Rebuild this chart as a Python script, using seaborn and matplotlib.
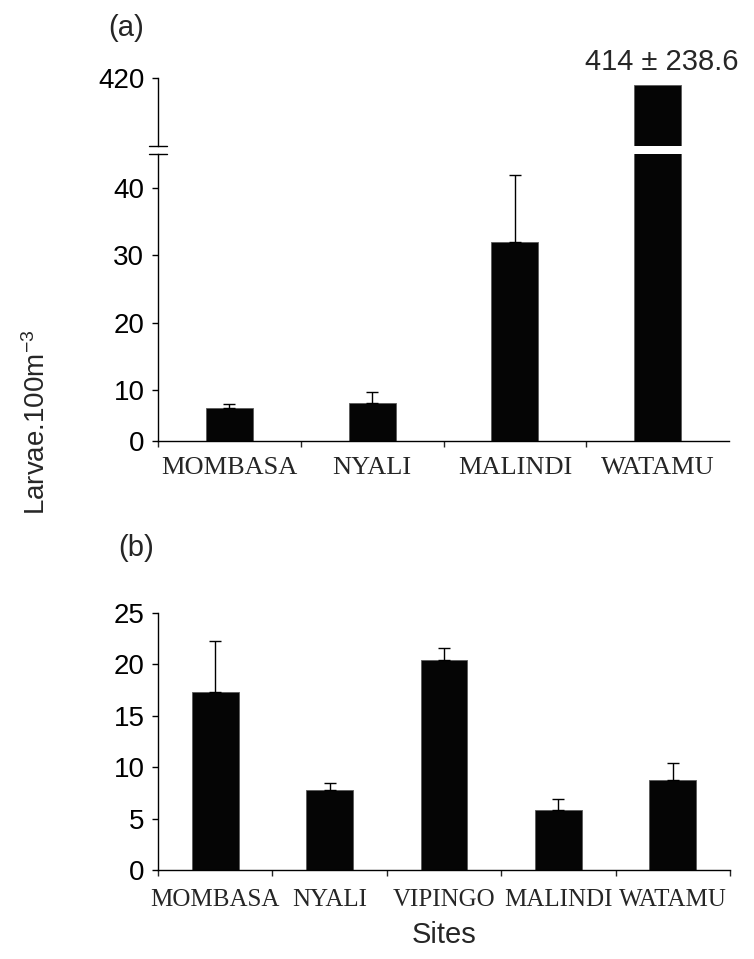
import numpy as np
import pandas as pd
import matplotlib
matplotlib.use("Agg")
import matplotlib.pyplot as plt
import seaborn as sns

# Panel (a): larval density per site (mean and upper SE)
sites_a = ["MOMBASA", "NYALI", "MALINDI", "WATAMU"]
mean_a = [6.5, 7.5, 32.0, 414.0]
se_a = [0.75, 2.1, 9.9, 238.6]

# Panel (b)
sites_b = ["MOMBASA", "NYALI", "VIPINGO", "MALINDI", "WATAMU"]
mean_b = [17.3, 7.8, 20.4, 5.8, 8.75]
se_b = [5.0, 0.7, 1.2, 1.1, 1.7]

ticks_a_low = [0, 10, 20, 30, 40]
ticks_a_high = [420]
ticks_b = [0, 5, 10, 15, 20, 25]

sns.set_theme(style="ticks")
plt.rcParams["font.family"] = ["Liberation Sans", "DejaVu Sans"]
plt.rcParams["mathtext.default"] = "regular"

W, H = 754, 959
fig = plt.figure(figsize=(W / 100, H / 100), dpi=100)


def fax(left, top, right, bottom):
    """Axes from pixel box (origin top-left)."""
    return fig.add_axes([left / W, 1 - bottom / H, (right - left) / W, (bottom - top) / H])


ax_hi = fax(158, 78, 729, 146)
ax_lo = fax(158, 154, 729, 441)
ax_b = fax(158, 613, 730, 870)

BAR = "#050505"
EDGE = "#5a5a5a"
LW = 1.0
TICK_FS = 20

# lower part of panel (a) has a compressed first interval (0-10)
K = 0.758


def fwd(y):
    y = np.asarray(y, dtype=float)
    return np.where(y <= 10, y * K, 10 * K + (y - 10))


def inv(v):
    v = np.asarray(v, dtype=float)
    return np.where(v <= 10 * K, v / K, v - 10 * K + 10)


df_a = pd.DataFrame({"site": sites_a, "mean": mean_a, "se": se_a})
df_b = pd.DataFrame({"site": sites_b, "mean": mean_b, "se": se_b})

for ax in (ax_hi, ax_lo):
    sns.barplot(data=df_a, x="site", y="mean", color=BAR, saturation=1,
                width=0.33, errorbar=None, edgecolor=EDGE, linewidth=0.6, ax=ax)
sns.barplot(data=df_b, x="site", y="mean", color=BAR, saturation=1,
            width=0.41, errorbar=None, edgecolor=EDGE, linewidth=0.6, ax=ax_b)

# upward-only standard error bars (WATAMU in (a) is stated as text instead)
n_err = 3
ax_lo.errorbar(np.arange(n_err), mean_a[:n_err],
               yerr=[np.zeros(n_err), se_a[:n_err]], fmt="none",
               ecolor="black", elinewidth=LW, capsize=4.3, capthick=LW)
ax_b.errorbar(np.arange(len(sites_b)), mean_b,
              yerr=[np.zeros(len(sites_b)), se_b], fmt="none",
              ecolor="black", elinewidth=LW, capsize=4.3, capthick=LW)

ax_lo.set_yscale("function", functions=(fwd, inv))
ax_lo.set_ylim(0, 45.07)
ax_lo.set_yticks(ticks_a_low)
ax_hi.set_ylim(361.7, 420)
ax_hi.set_yticks(ticks_a_high)
ax_b.set_ylim(0, 25)
ax_b.set_yticks(ticks_b)

for ax, n in ((ax_hi, len(sites_a)), (ax_lo, len(sites_a)), (ax_b, len(sites_b))):
    ax.set_xlim(-0.5, n - 0.5)
    ax.set_xlabel("")
    ax.set_ylabel("")
    for s in ("top", "right"):
        ax.spines[s].set_visible(False)
    for s in ("left", "bottom"):
        ax.spines[s].set_linewidth(LW)
        ax.spines[s].set_color("black")
    ax.tick_params(axis="y", direction="out", length=4.3, width=LW,
                   pad=5.5, labelsize=TICK_FS, colors="black")
    ax.patch.set_alpha(0)

# category labels without ticks; ticks sit on the boundaries
ax_lo.set_xticks(range(len(sites_a)))
ax_lo.set_xticklabels(sites_a, fontfamily="Liberation Serif", fontsize=19)
ax_lo.set_xticks(np.arange(-0.5, len(sites_a) - 1, 1.0), minor=True)
ax_lo.tick_params(axis="x", which="major", length=0, pad=11.5)
ax_lo.tick_params(axis="x", which="minor", direction="out", length=4.3, width=LW)

ax_b.set_xticks(range(len(sites_b)))
ax_b.set_xticklabels(sites_b, fontfamily="Liberation Serif", fontsize=18)
ax_b.set_xticks(np.arange(-0.5, len(sites_b), 1.0), minor=True)
ax_b.tick_params(axis="x", which="major", length=0, pad=14)
ax_b.tick_params(axis="x", which="minor", direction="out", length=4.3, width=LW)

ax_hi.spines["bottom"].set_visible(False)
ax_hi.tick_params(axis="x", which="both", bottom=False, labelbottom=False)

# axis break marks on the left spine
d = 9 / (729 - 158)
ax_hi.plot([-d, d], [0, 0], transform=ax_hi.transAxes, color="black",
           lw=LW, clip_on=False)
ax_lo.plot([-d, d], [1, 1], transform=ax_lo.transAxes, color="black",
           lw=LW, clip_on=False)

# value of the off-scale bar
ax_hi.annotate(f"{mean_a[3]:g} ± {se_a[3]:g}", xy=(3, mean_a[3]),
               xytext=(3, 10.8), textcoords="offset points",
               ha="center", va="baseline", fontsize=21, annotation_clip=False)

fig.text(126 / W, 1 - 28 / H, "(a)", ha="center", va="center", fontsize=21)
fig.text(136 / W, 1 - 548 / H, "(b)", ha="center", va="center", fontsize=21)
fig.text(37 / W, 1 - 422 / H, "Larvae.100m$^{-3}$", rotation=90,
         ha="center", va="center", fontsize=20)
fig.text(444 / W, 1 - 935 / H, "Sites", ha="center", va="center", fontsize=21)

fig.savefig("out.png", dpi=100, facecolor="white")
